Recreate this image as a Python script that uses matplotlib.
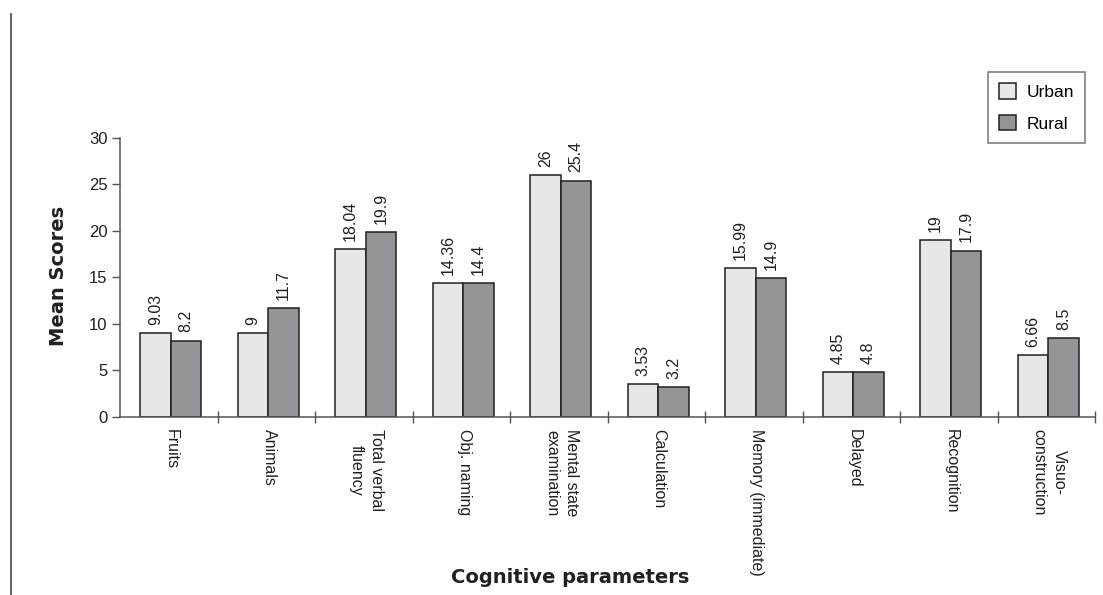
import matplotlib.pyplot as plt
import numpy as np
from matplotlib.lines import Line2D

# Mean cognitive scores, urban vs rural
categories = ["Fruits", "Animals", "Total verbal\nfluency", "Obj. naming",
              "Mental state\nexamination", "Calculation", "Memory (immediate)",
              "Delayed", "Recognition", "Visuo-\nconstruction"]
urban = [9.03, 9, 18.04, 14.36, 26, 3.53, 15.99, 4.85, 19, 6.66]
rural = [8.2, 11.7, 19.9, 14.4, 25.4, 3.2, 14.9, 4.8, 17.9, 8.5]
series_names = ["Urban", "Rural"]
yticks = [0, 5, 10, 15, 20, 25, 30]

URBAN_COLOR = "#e6e7e8"
RURAL_COLOR = "#939598"
EDGE = "#231f20"
NARROW = ["Liberation Sans Narrow", "Liberation Sans", "DejaVu Sans"]
BOLD = ["DejaVu Sans"]

fig = plt.figure(figsize=(11.03, 5.95), dpi=100)
ax = fig.add_axes([0.1088, 0.2992, 0.8840, 0.4689])

x = np.arange(len(categories)) + 0.5
w = 0.315
b1 = ax.bar(x - w / 2 + 0.02, urban, w, color=URBAN_COLOR, edgecolor=EDGE, linewidth=1.1,
            label=series_names[0])
b2 = ax.bar(x + w / 2 + 0.02, rural, w, color=RURAL_COLOR, edgecolor=EDGE, linewidth=1.1,
            label=series_names[1])

for bars, vals in ((b1, urban), (b2, rural)):
    for rect, v in zip(bars, vals):
        ax.annotate(f"{v:g}", (rect.get_x() + rect.get_width() / 2, v),
                    xytext=(0, 6), textcoords="offset points",
                    rotation=90, ha="center", va="bottom",
                    fontsize=11.5, family=NARROW, color="#231f20")

ax.set_xlim(0, len(categories))
ax.set_ylim(0, 30)
ax.set_yticks(yticks)
ax.set_yticklabels([str(t) for t in yticks], family=NARROW, fontsize=12, color="#231f20")
ax.set_xticks(np.arange(1, len(categories) + 1))
ax.set_xticklabels([])
ax.tick_params(axis="y", direction="out", length=6, width=1, color="#555555", pad=3)
ax.tick_params(axis="x", direction="inout", length=9, width=1, color="#555555")

for s in ("top", "right"):
    ax.spines[s].set_visible(False)
for s in ("left", "bottom"):
    ax.spines[s].set_color("#555555")
    ax.spines[s].set_linewidth(1.1)

# category names hang below the axis, read top to bottom
for xi, name in zip(x, categories):
    ax.text(xi + 0.03, -1.3, name, rotation=-90, ha="center", va="top",
            linespacing=1.45, fontsize=11.5, family=NARROW, color="#231f20")

fig.text(0.517, 0.029, "Cognitive parameters", ha="center", va="center",
         fontsize=14, fontweight="bold", family=BOLD, color="#231f20")
fig.text(0.053, 0.536, "Mean Scores", ha="center", va="center", rotation=90,
         fontsize=14, fontweight="bold", family=BOLD, color="#231f20")

leg = ax.legend(loc="upper right", bbox_to_anchor=(0.999, 1.267), frameon=True,
                fancybox=False, edgecolor="#555555", handlelength=1.0, handleheight=1.0,
                borderpad=0.65, labelspacing=0.85, handletextpad=0.6,
                prop={"family": NARROW, "size": 12.5})
leg.get_frame().set_linewidth(1.1)
for h in leg.legend_handles:
    h.set_linewidth(1.1)

# vertical rule on the left page margin
fig.add_artist(Line2D([0.0104, 0.0104], [0.0, 0.976], transform=fig.transFigure,
                      color="#555555", linewidth=1.3))

fig.savefig("out.png", dpi=100)
